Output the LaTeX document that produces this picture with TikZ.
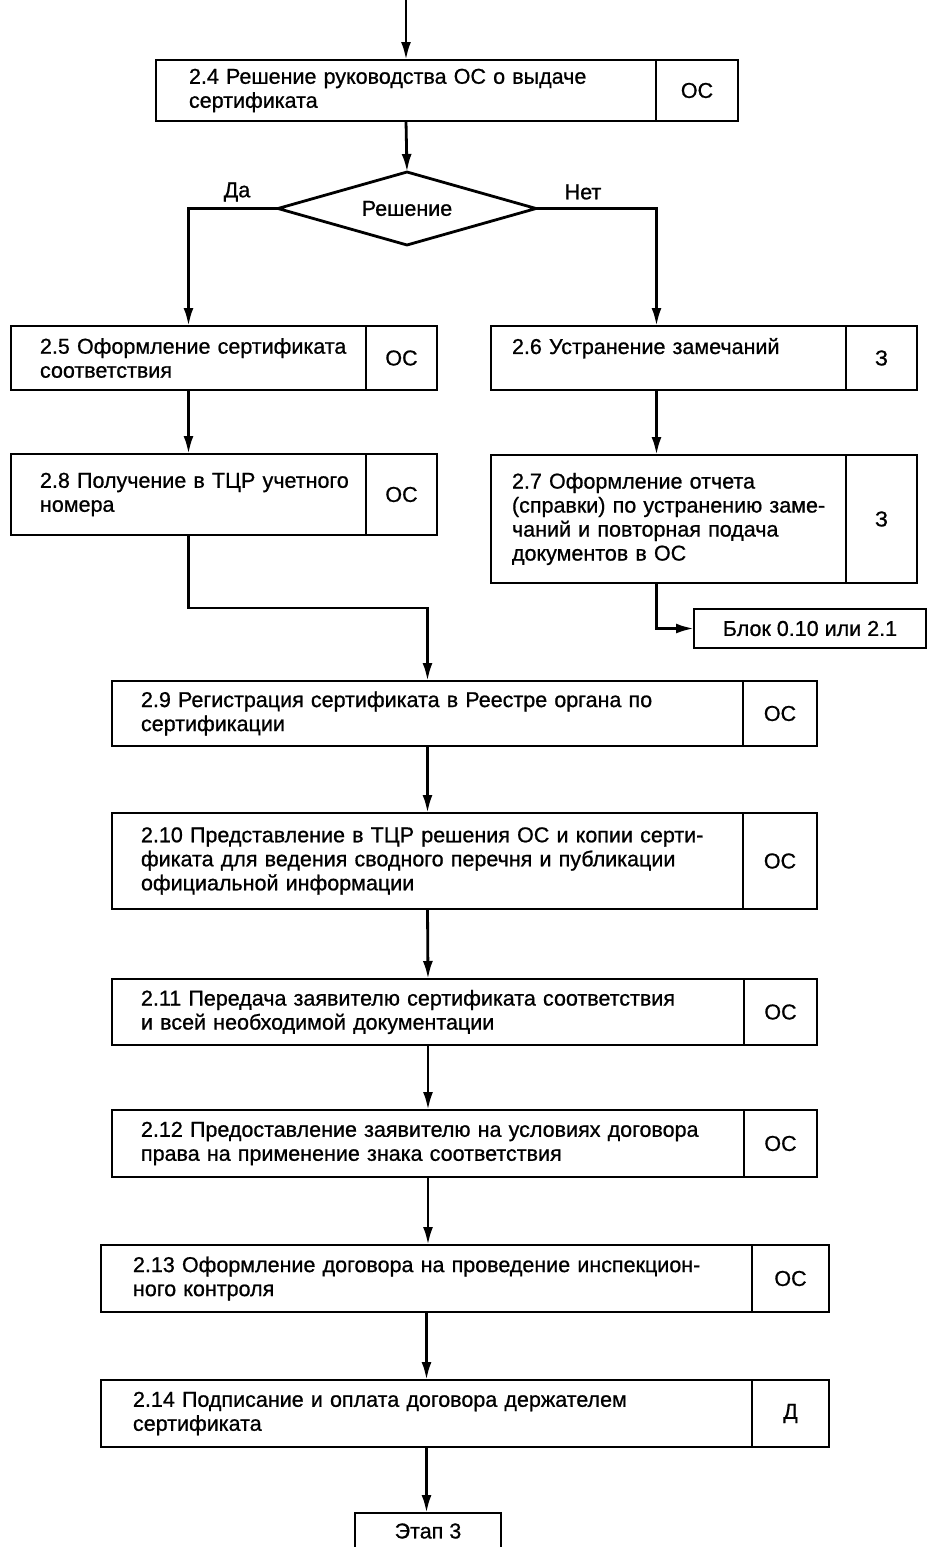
\documentclass[tikz,border=0pt]{standalone}
\usepackage{fontspec}
\setmainfont{Liberation Sans}[FakeBold=0.8]
\usetikzlibrary{shapes.geometric,arrows.meta}
\hfuzz=30pt

\tikzset{
  mainbox/.style={draw, line width=2.8pt, inner sep=0pt, outer sep=0pt, align=left,
    execute at begin node={\rightskip=0pt plus 1fil minus 40pt}},
  rolebox/.style={draw, line width=2.8pt, inner sep=0pt, outer sep=0pt, anchor=west},
  arr/.style={line width=2.8pt, -{Latex[length=18pt,width=10pt]}},
  frame/.style={draw, line width=2.8pt, inner sep=0pt, outer sep=0pt}
}

\begin{document}
\begin{tikzpicture}[x=1pt,y=-1pt,font=\fontsize{21.5}{24}\selectfont]
\useasboundingbox (0,0) rectangle (928,1547);

% top block and decision
\node[mainbox, minimum width=500pt, minimum height=61pt, text width=434pt] (b24) at (406,90.5)
  {2.4 Решение руководства ОС о выдаче\\сертификата};
\node[rolebox, minimum width=82pt, minimum height=61pt] (r24) at (b24.east) {ОС};
\node[frame, diamond, aspect=3.5, minimum width=258pt, minimum height=73pt] (dec) at (407,208.5) {Решение};
\node (lda) at (237,192) {Да};
\node (lnet) at (583,192) {Нет};

% left column
\node[mainbox, minimum width=355pt, minimum height=64pt, text width=297pt] (b25) at (188.5,358)
  {2.5 Оформление сертификата\\соответствия};
\node[rolebox, minimum width=71pt, minimum height=64pt] (r25) at (b25.east) {ОС};
\node[mainbox, minimum width=355pt, minimum height=81pt, text width=297pt] (b28) at (188.5,494.5)
  {2.8 Получение в ТЦР учетного\\номера};
\node[rolebox, minimum width=71pt, minimum height=81pt] (r28) at (b28.east) {ОС};

% right column
\node[mainbox, minimum width=355pt, minimum height=64pt, text width=313pt] (b26) at (668.5,358)
  {2.6 Устранение замечаний\\\mbox{}};
\node[rolebox, minimum width=71pt, minimum height=64pt] (r26) at (b26.east) {З};
\node[mainbox, minimum width=355pt, minimum height=128pt, text width=313pt] (b27) at (668.5,519)
  {2.7 Оформление отчета\\(справки) по устранению заме-\\чаний и повторная подача\\документов в ОС};
\node[rolebox, minimum width=71pt, minimum height=128pt] (r27) at (b27.east) {З};
\node[frame, minimum width=232pt, minimum height=39pt] (blk) at (810,628.5) {Блок 0.10 или 2.1};

% main chain
\node[mainbox, minimum width=631pt, minimum height=65pt, text width=573pt] (b29) at (427.5,713.5)
  {2.9 Регистрация сертификата в Реестре органа по\\сертификации};
\node[rolebox, minimum width=74pt, minimum height=65pt] (r29) at (b29.east) {ОС};
\node[mainbox, minimum width=631pt, minimum height=96pt, text width=573pt] (b210) at (427.5,861)
  {2.10 Представление в ТЦР решения ОС и копии серти-\\фиката для ведения сводного перечня и публикации\\официальной информации};
\node[rolebox, minimum width=74pt, minimum height=96pt] (r210) at (b210.east) {ОС};
\node[mainbox, minimum width=632pt, minimum height=66pt, text width=574pt] (b211) at (428,1012)
  {2.11 Передача заявителю сертификата соответствия\\и всей необходимой документации};
\node[rolebox, minimum width=73pt, minimum height=66pt] (r211) at (b211.east) {ОС};
\node[mainbox, minimum width=632pt, minimum height=67pt, text width=574pt] (b212) at (428,1143.5)
  {2.12 Предоставление заявителю на условиях договора\\права на применение знака соответствия};
\node[rolebox, minimum width=73pt, minimum height=67pt] (r212) at (b212.east) {ОС};
\node[mainbox, minimum width=651pt, minimum height=67pt, text width=587pt] (b213) at (426.5,1278.5)
  {2.13 Оформление договора на проведение инспекцион-\\ного контроля};
\node[rolebox, minimum width=77pt, minimum height=67pt] (r213) at (b213.east) {ОС};
\node[mainbox, minimum width=651pt, minimum height=67pt, text width=587pt] (b214) at (426.5,1413.5)
  {2.14 Подписание и оплата договора держателем\\сертификата};
\node[rolebox, minimum width=77pt, minimum height=67pt] (r214) at (b214.east) {Д};
\node[frame, minimum width=146pt, minimum height=36pt] (etap) at (428,1531) {Этап 3};

% connectors
\coordinate (start) at (406,0);
\draw[arr] (start) -- (b24.north);
\draw[arr] (b24.south) -- (dec.north);
\draw[arr] (dec.west) -| (b25.north);
\draw[arr] (dec.east) -| ([xshift=-12pt]b26.north);
\draw[arr] (b25.south) -- (b28.north);
\draw[arr] ([xshift=-12pt]b26.south) -- ([xshift=-12pt]b27.north);
\draw[arr] ([xshift=-12pt]b27.south) |- (blk.west);
\draw[arr] (b28.south) -- ++(0,73) -| (b29.north);
\draw[arr] (b29.south) -- (b210.north);
\draw[arr] (b210.south) -- (b211.north);
\draw[arr] (b211.south) -- (b212.north);
\draw[arr] (b212.south) -- (b212.south |- b213.north);
\draw[arr] (b213.south) -- (b214.north);
\draw[arr] (b214.south) -- (b214.south |- etap.north);
\end{tikzpicture}
\end{document}
